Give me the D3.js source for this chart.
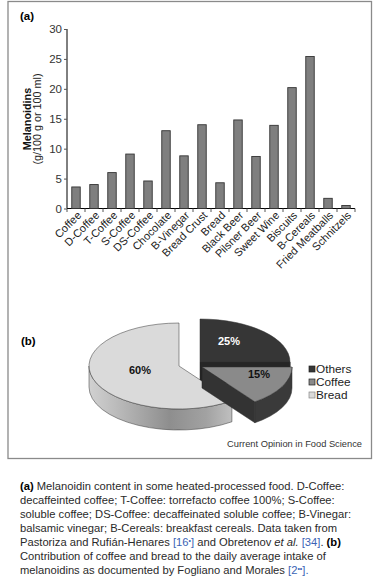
<!DOCTYPE html>
<html><head><meta charset="utf-8">
<script src="https://cdn.jsdelivr.net/npm/d3@7/dist/d3.min.js"></script>
<style>
html,body{margin:0;padding:0;background:#fff;}
svg{display:block;font-family:"Liberation Sans",Arial,sans-serif;}
</style></head>
<body>
<svg id="c" width="377" height="587"></svg>
<script>
// ---- data ----
const categories = ["Coffee","D-Coffee","T-Coffee","S-Coffee","DS-Coffee","Chocolate","B-Vinegar","Bread Crust","Bread","Black Beer","Pilsner Beer","Sweet Wine","Biscuits","B-Cereals","Fried Meatballs","Schnitzels"];
const values = [3.6,4.0,6.0,9.1,4.6,13.0,8.8,14.0,4.3,14.8,8.7,13.9,20.2,25.4,1.7,0.5];
const yTicks = [0,5,10,15,20,25,30];
const pieLabels = ["Others","Coffee","Bread"];
const pieValues = [25,15,60];
const pieText = ["25%","15%","60%"];
const captionLines = [
  [["(a)","b"],[" Melanoidin content in some heated-processed food. D-Coffee:",""]],
  [["decaffeinted coffee; T-Coffee: torrefacto coffee 100%; S-Coffee:",""]],
  [["soluble coffee; DS-Coffee: decaffeinated soluble coffee; B-Vinegar:",""]],
  [["balsamic vinegar; B-Cereals: breakfast cereals. Data taken from",""]],
  [["Pastoriza and Rufián-Henares ",""],["[16","l"],["•","ls"],["]","l"],[" and Obretenov ",""],["et al.","i"],[" ",""],["[34]","l"],[". ",""],["(b)","b"]],
  [["Contribution of coffee and bread to the daily average intake of",""]],
  [["melanoidins as documented by Fogliano and Morales ",""],["[2","l"],["••","ls"],["].","l"]]
];

const svg = d3.select("#c");

// frame
svg.append("rect").attr("x",8).attr("y",1.5).attr("width",363.5).attr("height",457)
  .attr("fill","none").attr("stroke","#8a8a8a").attr("stroke-width",1.3);

// ---- panel (a) ----
svg.append("text").attr("x",20).attr("y",20).attr("font-size",11.5).attr("font-weight","bold").text("(a)");

const x = d3.scaleBand().domain(categories).range([67,355]).paddingInner(0.53).paddingOuter(0.265);
const xb = d3.scaleBand().domain(categories).range([67,355]);
const y = d3.scaleLinear().domain([0,30]).range([208.5,29]);

// y axis
const ya = svg.append("g").attr("transform","translate(67,0)")
  .call(d3.axisLeft(y).tickValues(yTicks).tickSize(3).tickPadding(2));
ya.select(".domain").attr("stroke","#000").attr("d","M0,29V208.5");
ya.selectAll(".tick line").attr("stroke","#555");
ya.selectAll(".tick text").attr("font-size",11.5).attr("fill","#333").attr("font-family","Liberation Sans, Arial, sans-serif");

// x axis
const xa = svg.append("g").attr("transform","translate(0,208.5)")
  .call(d3.axisBottom(xb).tickSize(0).tickFormat(""));
xa.select(".domain").attr("stroke","#000").attr("d","M67,0H355");
svg.append("g").selectAll("line").data(categories.concat(["_end"])).join("line")
  .attr("x1",(d,i)=>67+i*xb.bandwidth()).attr("x2",(d,i)=>67+i*xb.bandwidth())
  .attr("y1",208.5).attr("y2",212).attr("stroke","#555");

// bars
svg.append("g").selectAll("rect").data(values).join("rect")
  .attr("x",(d,i)=>x(categories[i])).attr("width",x.bandwidth())
  .attr("y",d=>y(d)).attr("height",d=>y(0)-y(d))
  .attr("fill","#7f7f7f").attr("stroke","#333").attr("stroke-width",0.9);

// x labels
svg.append("g").selectAll("text").data(categories).join("text")
  .attr("transform",d=>`translate(${xb(d)+xb.bandwidth()/2+6},216) rotate(-45)`)
  .attr("text-anchor","end").attr("font-size",11).attr("fill","#222").text(d=>d);

// y title
svg.append("text").attr("transform","translate(31,119) rotate(-90)").attr("text-anchor","middle")
  .attr("font-size",10.8).attr("font-weight","bold").attr("fill","#111").text("Melanoidins");
svg.append("text").attr("transform","translate(41,119) rotate(-90)").attr("text-anchor","middle")
  .attr("font-size",10.8).attr("fill","#222").text("(g/100 g or 100 ml)");

// ---- panel (b) ----
svg.append("text").attr("x",21).attr("y",345).attr("font-size",11.5).attr("font-weight","bold").text("(b)");

const defs = svg.append("defs");
const g1 = defs.append("linearGradient").attr("id","breadSide").attr("gradientUnits","userSpaceOnUse")
  .attr("x1",88).attr("x2",236).attr("y1",0).attr("y2",0);
[[0,"#d2d2d2"],[0.25,"#b4b4b4"],[0.55,"#8e8e8e"],[0.8,"#a2a2a2"],[1,"#c4c4c4"]].forEach(s=>g1.append("stop").attr("offset",s[0]).attr("stop-color",s[1]));

const rx=90, ry=43, depth=21;
const centers = {Others:[200,362], Coffee:[202,367], Bread:[179,366]};
const topCol = {Others:"#363636", Coffee:"#8a8a8a", Bread:"#dadada"};
const sideCol = {Others:"#1e1e1e", Coffee:"#3a3a3a", Bread:"url(#breadSide)"};
const faceCol = {Others:"#262626", Coffee:"#333333", Bread:"#9a9a9a"};

const arcs = d3.pie().sort(null).startAngle(0).endAngle(2*Math.PI)(pieValues);
const pg = svg.append("g");
function pt(c,t,dz){return [c[0]+rx*Math.sin(t), c[1]-ry*Math.cos(t)+(dz||0)];}

const order = [0,2,1]; // back to front: Others, Bread, Coffee
order.forEach(i=>{
  const a = arcs[i], name = pieLabels[i], c = centers[name];
  const g = pg.append("g");
  [a.startAngle,a.endAngle].forEach((t,k)=>{
    const nt = k===0 ? t-Math.PI/2 : t+Math.PI/2;
    if (-Math.cos(nt) > 0.01) {
      const p = pt(c,t);
      g.append("path").attr("d",`M${c[0]},${c[1]}L${p[0]},${p[1]}L${p[0]},${p[1]+depth}L${c[0]},${c[1]+depth}Z`)
        .attr("fill",faceCol[name]).attr("stroke","#222").attr("stroke-width",0.5);
    }
  });
  const s = Math.max(a.startAngle, Math.PI/2), e = Math.min(a.endAngle, 3*Math.PI/2);
  if (e > s) {
    const p0=pt(c,s), p1=pt(c,e);
    g.append("path").attr("d",`M${p0[0]},${p0[1]}A${rx},${ry} 0 0 1 ${p1[0]},${p1[1]}L${p1[0]},${p1[1]+depth}A${rx},${ry} 0 0 0 ${p0[0]},${p0[1]+depth}Z`)
      .attr("fill",sideCol[name]).attr("stroke","#333").attr("stroke-width",0.5);
  }
  const q0=pt(c,a.startAngle), q1=pt(c,a.endAngle);
  const large = (a.endAngle-a.startAngle) > Math.PI ? 1 : 0;
  g.append("path").attr("d",`M${c[0]},${c[1]}L${q0[0]},${q0[1]}A${rx},${ry} 0 ${large} 1 ${q1[0]},${q1[1]}Z`)
    .attr("fill",topCol[name]).attr("stroke","#333").attr("stroke-width",0.5);
});

// pie labels
const lblPos = {Others:[229,345], Coffee:[259,378], Bread:[140,374]};
const lblCol = {Others:"#fff", Coffee:"#111", Bread:"#111"};
pieLabels.forEach((n,i)=>{
  svg.append("text").attr("x",lblPos[n][0]).attr("y",lblPos[n][1]).attr("text-anchor","middle")
    .attr("font-size",11).attr("font-weight","bold").attr("fill",lblCol[n]).text(pieText[i]);
});

// legend
const leg = svg.append("g");
pieLabels.forEach((n,i)=>{
  const yy = 373 + i*13;
  leg.append("rect").attr("x",309).attr("y",yy-7).attr("width",6).attr("height",6)
    .attr("fill",topCol[n]).attr("stroke",n==="Bread"?"#888":"#222").attr("stroke-width",0.7);
  leg.append("text").attr("x",316).attr("y",yy).attr("font-size",11.8).attr("fill","#222").text(n);
});

svg.append("text").attr("x",362).attr("y",447).attr("text-anchor","end").attr("font-size",9.3).attr("fill","#333")
  .text("Current Opinion in Food Science");

// caption
const cap = svg.append("g");
captionLines.forEach((line,li)=>{
  const t = cap.append("text").attr("x",20).attr("y",489.5+li*14.1).attr("font-size",11.2).attr("fill","#2a2a2a");
  line.forEach(([s,st])=>{
    const ts = t.append("tspan").text(s);
    if (st==="b") ts.attr("font-weight","bold").attr("fill","#000");
    if (st==="i") ts.attr("font-style","italic");
    if (st==="l") ts.attr("fill","#3b63b5");
    if (st==="ls") ts.attr("fill","#3b63b5").attr("font-size",7).attr("baseline-shift","super");
  });
});
</script>
</body></html>
